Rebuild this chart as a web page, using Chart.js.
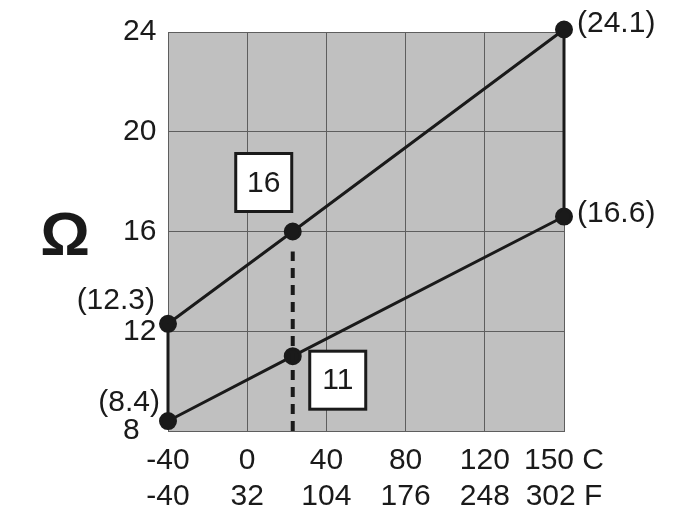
<!DOCTYPE html>
<html>
<head>
<meta charset="utf-8">
<script src="https://cdn.jsdelivr.net/npm/chart.js@4/dist/chart.umd.min.js"></script>
<style>
  body { margin: 0; background: #fff; }
</style>
</head>
<body>
<canvas id="chart" width="674" height="509"></canvas>
<script>
// temperature ticks, the grid is drawn evenly even though 120 -> 150 is a shorter step
const tempC = [-40, 0, 40, 80, 120, 150];
const tempF = [-40, 32, 104, 176, 248, 302];
const ohmTicks = [8, 12, 16, 20, 24];

// the two resistance lines (deg C -> ohm)
const pointsC = [-40, 23, 150];
const upperOhm = [12.3, 16, 24.1];
const lowerOhm = [8.4, 11, 16.6];
const markerTop = 15.2; // dashed marker goes from the bottom up to here

const ink = '#1a1a1a';
const font = 'Liberation Sans, Arial, sans-serif';

// position on the evenly spaced grid, piecewise between the C ticks
function toPos(c) {
    for (let i = 0; i < tempC.length - 1; i++) {
        if (c <= tempC[i + 1]) return i + (c - tempC[i]) / (tempC[i + 1] - tempC[i]);
    }
    return tempC.length - 1;
}

const upper = pointsC.map((c, i) => ({ x: toPos(c), y: upperOhm[i] }));
const lower = pointsC.map((c, i) => ({ x: toPos(c), y: lowerOhm[i] }));
const last = pointsC.length - 1;
const lastTick = tempC.length - 1;
const midX = toPos(pointsC[1]);

const plotBg = {
    id: 'plotBg',
    beforeDraw(chart) {
        const { ctx, chartArea: a } = chart;
        ctx.save();
        ctx.fillStyle = '#c0c0c0';
        ctx.fillRect(a.left, a.top, a.right - a.left, a.bottom - a.top);
        ctx.restore();
    }
};

const notes = {
    id: 'notes',
    afterDatasetsDraw(chart) {
        const { ctx, chartArea: a } = chart;
        const up = chart.getDatasetMeta(3).data;
        const lo = chart.getDatasetMeta(4).data;
        ctx.save();
        ctx.fillStyle = ink;
        ctx.font = '30px ' + font;
        ctx.textBaseline = 'middle';

        // end values
        ctx.textAlign = 'right';
        ctx.fillText('(' + upperOhm[0].toFixed(1) + ')', up[0].x - 13, up[0].y - 23);
        ctx.fillText('(' + lowerOhm[0].toFixed(1) + ')', lo[0].x - 8, lo[0].y - 18);
        ctx.textAlign = 'left';
        ctx.fillText('(' + upperOhm[last].toFixed(1) + ')', up[last].x + 13, up[last].y - 6);
        ctx.fillText('(' + lowerOhm[last].toFixed(1) + ')', lo[last].x + 13, lo[last].y - 3);

        // boxed values at the marker
        function box(text, cx, cy) {
            ctx.fillStyle = '#fff';
            ctx.fillRect(cx - 28, cy - 29, 56, 58);
            ctx.lineWidth = 3;
            ctx.strokeStyle = ink;
            ctx.strokeRect(cx - 28, cy - 29, 56, 58);
            ctx.fillStyle = ink;
            ctx.textAlign = 'center';
            ctx.fillText(text, cx, cy + 1);
        }
        box(String(upperOhm[1]), up[1].x - 29, up[1].y - 49);
        box(String(lowerOhm[1]), lo[1].x + 45, lo[1].y + 24);

        // unit symbol
        ctx.font = 'bold 62px ' + font;
        ctx.textAlign = 'center';
        ctx.fillText('\u03A9', a.left - 103, (a.top + a.bottom) / 2 + 6);
        ctx.restore();
    }
};

const line = (data, extra) => Object.assign({
    data: data,
    showLine: true,
    borderColor: ink,
    backgroundColor: ink,
    borderWidth: 3,
    pointRadius: 0,
    clip: false
}, extra);

new Chart(document.getElementById('chart').getContext('2d'), {
    type: 'scatter',
    data: {
        datasets: [
            line([lower[0], upper[0]]),
            line([lower[last], upper[last]]),
            line([{ x: midX, y: ohmTicks[0] }, { x: midX, y: markerTop }], { borderWidth: 4, borderDash: [10, 7] }),
            line(upper, { pointRadius: 7.5 }),
            line(lower, { pointRadius: 7.5 })
        ]
    },
    options: {
        responsive: false,
        animation: false,
        layout: { padding: { left: 123, top: 32, right: 110, bottom: 0 } },
        plugins: { legend: { display: false }, tooltip: { enabled: false } },
        scales: {
            x: {
                type: 'linear',
                min: 0,
                max: lastTick,
                afterFit: s => { s.height = 78; },
                grid: { color: '#5e5e5e', drawTicks: false },
                border: { color: '#5e5e5e' },
                ticks: {
                    stepSize: 1,
                    autoSkip: false,
                    padding: 12,
                    color: ink,
                    font: { family: font, size: 30, lineHeight: 1.2 },
                    maxRotation: 0,
                    callback: v => v === lastTick
                        ? [tempC[v] + ' C', tempF[v] + ' F']
                        : [String(tempC[v]), String(tempF[v])]
                }
            },
            y: {
                min: ohmTicks[0],
                max: ohmTicks[ohmTicks.length - 1],
                afterFit: s => { s.width = 45; },
                grid: { color: '#5e5e5e', drawTicks: false },
                border: { color: '#5e5e5e' },
                ticks: {
                    stepSize: 4,
                    crossAlign: 'far',
                    color: ink,
                    font: { family: font, size: 30 }
                }
            }
        }
    },
    plugins: [plotBg, notes]
});
</script>
</body>
</html>
